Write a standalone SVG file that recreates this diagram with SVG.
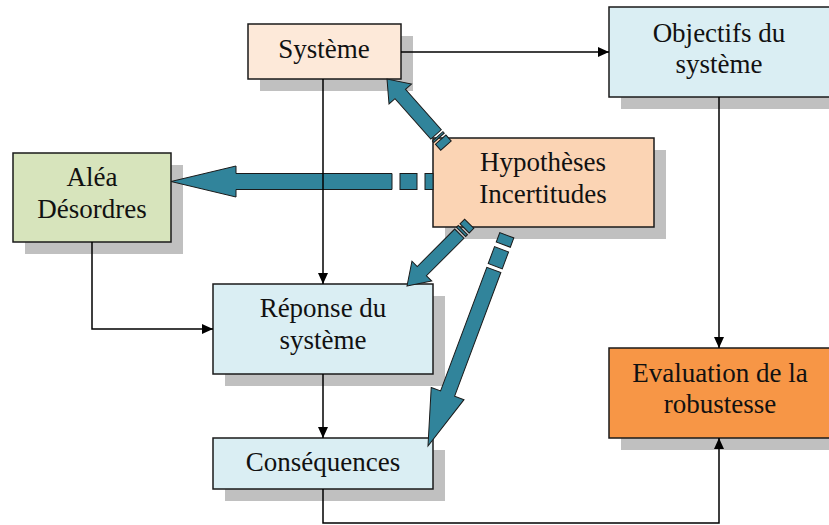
<svg xmlns="http://www.w3.org/2000/svg" width="829" height="525" viewBox="0 0 829 525">
<style>
.box{stroke:#1a1a1a;stroke-width:1.5}
.shadow{fill:#c0c0c0}
.lbl{font-family:"Liberation Serif","Times New Roman",serif;font-size:27px;fill:#111;text-anchor:middle}
.line{fill:none;stroke:#000;stroke-width:1.5}
.blk{fill:#31849b;stroke:#1a1a1a;stroke-width:1;stroke-linejoin:miter}
</style>
<defs>
<marker id="ah" markerUnits="userSpaceOnUse" markerWidth="12" markerHeight="10" refX="11" refY="5" orient="auto">
<path d="M0,0 L11,5 L0,10 Z" fill="#000"/>
</marker>
</defs>
<rect width="829" height="525" fill="#fff"/>

<g id="systeme">
<rect class="shadow" x="260" y="36" width="153" height="55"/>
<rect class="box" x="248" y="24" width="153" height="55" fill="#fde9d9"/>
<text class="lbl" x="324" y="58">Système</text>
</g>

<g id="objectifs">
<rect class="shadow" x="621" y="19" width="222" height="90"/>
<rect class="box" x="609" y="7" width="222" height="90" fill="#daeef3"/>
<text class="lbl" x="719" y="42">Objectifs du</text>
<text class="lbl" x="719" y="73">système</text>
</g>

<g id="hypotheses">
<rect class="shadow" x="445" y="150" width="221" height="89"/>
<rect class="box" x="433" y="138" width="221" height="89" fill="#fbd4b4"/>
<text class="lbl" x="543" y="171">Hypothèses</text>
<text class="lbl" x="543" y="203">Incertitudes</text>
</g>

<g id="alea">
<rect class="shadow" x="25" y="165" width="158" height="89"/>
<rect class="box" x="13" y="153" width="158" height="89" fill="#d7e4bc"/>
<text class="lbl" x="92" y="186">Aléa</text>
<text class="lbl" x="92" y="218">Désordres</text>
</g>

<g id="reponse">
<rect class="shadow" x="225" y="296" width="220" height="90"/>
<rect class="box" x="213" y="284" width="220" height="90" fill="#daeef3"/>
<text class="lbl" x="323" y="317">Réponse du</text>
<text class="lbl" x="323" y="349">système</text>
</g>

<g id="consequences">
<rect class="shadow" x="225" y="450" width="220" height="51"/>
<rect class="box" x="213" y="438" width="220" height="51" fill="#daeef3"/>
<text class="lbl" x="323" y="471">Conséquences</text>
</g>

<g id="evaluation">
<rect class="shadow" x="621" y="360" width="222" height="90"/>
<rect class="box" x="609" y="348" width="222" height="90" fill="#f79646"/>
<text class="lbl" x="720" y="382">Evaluation de la</text>
<text class="lbl" x="720" y="413">robustesse</text>
</g>

<g id="connectors">
<g transform="translate(171,181.5) rotate(180)">
<polygon class="blk" points="0,0 -65,-15.5 -65,-8 -221,-8 -221,8 -65,8 -65,15.5"/>
<rect class="blk" x="-246" y="-8" width="17" height="16"/>
<rect class="blk" x="-262" y="-8" width="8" height="16"/>
</g>
<g transform="translate(387,79) rotate(-131.5)">
<polygon class="blk" points="0,0 -20,-15 -20,-7 -74,-7 -74,7 -20,7 -20,15"/>
<rect class="blk" x="-78.5" y="-7" width="2" height="14"/>
<rect class="blk" x="-89" y="-7" width="8" height="14"/>
</g>
<g transform="translate(407,286) rotate(135)">
<polygon class="blk" points="0,0 -21,-14 -21,-6.5 -74,-6.5 -74,6.5 -21,6.5 -21,14"/>
<rect class="blk" x="-79" y="-6.5" width="2.5" height="13"/>
<rect class="blk" x="-88" y="-6.5" width="6.5" height="13"/>
</g>
<g transform="translate(428,446) rotate(110.5)">
<polygon class="blk" points="0,0 -56,-17.5 -56,-7.5 -188,-7.5 -188,7.5 -56,7.5 -56,17.5"/>
<rect class="blk" x="-210" y="-7.5" width="18" height="15"/>
<rect class="blk" x="-225" y="-7.5" width="10" height="15"/>
</g>
<path class="line" d="M401,52 H609" marker-end="url(#ah)"/>
<path class="line" d="M323,79 V284" marker-end="url(#ah)"/>
<path class="line" d="M92,242 V329 H213" marker-end="url(#ah)"/>
<path class="line" d="M323,374 V438" marker-end="url(#ah)"/>
<path class="line" d="M323,489 V523 H719 V438" marker-end="url(#ah)"/>
<path class="line" d="M719,97 V348" marker-end="url(#ah)"/>
</g>
</svg>
